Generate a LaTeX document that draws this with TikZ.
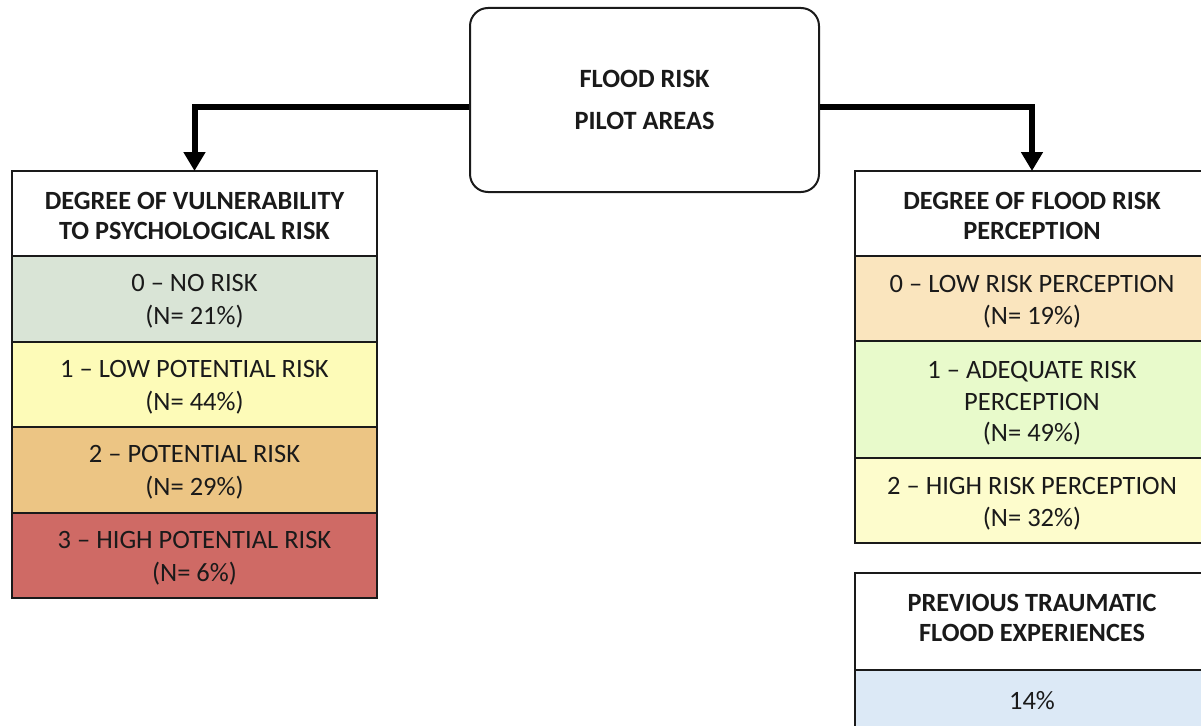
\documentclass[tikz,border=0pt]{standalone}
\usepackage{fontspec}
\setmainfont{Carlito}
\usetikzlibrary{arrows.meta}
\definecolor{ink}{HTML}{1A1A1A}
\definecolor{cNone}{HTML}{D9E4D6}
\definecolor{cLow}{HTML}{FDFBB8}
\definecolor{cPot}{HTML}{ECC584}
\definecolor{cHigh}{HTML}{CF6A65}
\definecolor{pLow}{HTML}{FAE5BE}
\definecolor{pAdq}{HTML}{E8FACB}
\definecolor{pHigh}{HTML}{FDFCCC}
\definecolor{trauma}{HTML}{DCE9F6}
% invisible struts that pad the top or bottom of a cell's text
\newcommand\padtop[1]{\rule{0pt}{#1}}
\newcommand\padbot[1]{\rule[-#1]{0pt}{#1}}
\begin{document}
\begin{tikzpicture}[x=1pt,y=-1pt,
  cell/.style={draw=ink, line width=2pt, inner sep=0pt, outer sep=0pt,
    align=center, anchor=north, text=ink},
  lcell/.style={cell, minimum width=365pt},
  rcell/.style={cell, minimum width=354pt},
  headfont/.style={font=\fontsize{26.3}{30}\selectfont\bfseries},
  rowfont/.style={font=\fontsize{26.5}{33}\selectfont},
  topbox/.style={draw=ink, line width=2pt, rounded corners=18pt,
    minimum width=349pt, minimum height=184pt, align=center, text=ink,
    font=\fontsize{26.4}{42}\selectfont\bfseries},
  conn/.style={draw=black, line width=6pt,
    -{Triangle[width=21pt,length=19pt]}}
]
\useasboundingbox (0,0) rectangle (1201,725);
\clip (0,0) rectangle (1201,725);

% central box
\node[topbox] (top) at (644.5,100) {FLOOD RISK\\PILOT AREAS};

% left column: vulnerability to psychological risk
\node[lcell, headfont, minimum height=85pt, fill=white] (lhead) at (194.5,171)
  {\padtop{22pt}DEGREE OF VULNERABILITY\\TO PSYCHOLOGICAL RISK};
\node[lcell, rowfont, minimum height=85.5pt, fill=cNone] (l0) at (lhead.south)
  {\padtop{23pt}0 – NO RISK\\(N= 21\%)};
\node[lcell, rowfont, minimum height=85.5pt, fill=cLow] (l1) at (l0.south)
  {\padtop{23pt}1 – LOW POTENTIAL RISK\\(N= 44\%)};
\node[lcell, rowfont, minimum height=85.5pt, fill=cPot] (l2) at (l1.south)
  {\padtop{23pt}2 – POTENTIAL RISK\\(N= 29\%)};
\node[lcell, rowfont, minimum height=85.5pt, fill=cHigh] (l3) at (l2.south)
  {\padtop{23pt}3 – HIGH POTENTIAL RISK\\(N= 6\%)};

% right column: flood risk perception
\node[rcell, headfont, minimum height=85pt, fill=white] (rhead) at (1032,171)
  {\padtop{22pt}DEGREE OF FLOOD RISK\\PERCEPTION};
\node[rcell, rowfont, minimum height=85pt, fill=pLow,
  font=\fontsize{26.5}{32}\selectfont] (r0) at (rhead.south)
  {\padtop{23pt}0 – LOW RISK PERCEPTION\\(N= 19\%)};
\node[rcell, rowfont, minimum height=117pt, fill=pAdq,
  font=\fontsize{26.5}{31.5}\selectfont] (r1) at (r0.south)
  {\padtop{25pt}1 – ADEQUATE RISK\\PERCEPTION\\(N= 49\%)};
\node[rcell, rowfont, minimum height=85pt, fill=pHigh,
  font=\fontsize{26.5}{32}\selectfont] (r2) at (r1.south)
  {\padtop{23pt}2 – HIGH RISK PERCEPTION\\(N= 32\%)};

% previous traumatic experiences
\node[rcell, headfont, minimum height=97pt, fill=white] (thead) at (1032,573)
  {PREVIOUS TRAUMATIC\\FLOOD EXPERIENCES\padbot{8pt}};
\node[rcell, rowfont, minimum height=62pt, fill=trauma] (t0) at (thead.south)
  {14\%};

% connectors from the central box
\draw[conn] ([yshift=-7pt]top.west) -| (lhead.north);
\draw[conn] ([yshift=-7pt]top.east) -| (rhead.north);
\end{tikzpicture}
\end{document}
